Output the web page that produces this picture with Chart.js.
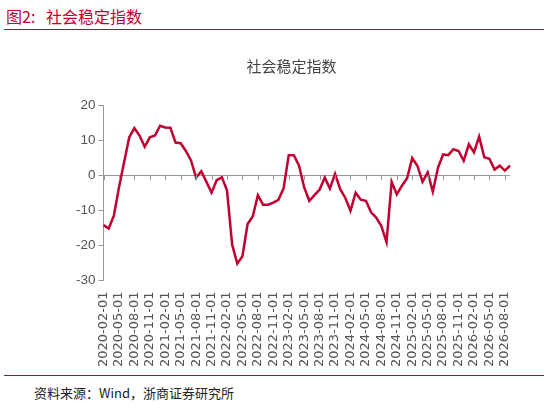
<!DOCTYPE html>
<html><head><meta charset="utf-8">
<script src="https://cdn.jsdelivr.net/npm/chart.js@4"></script>
<style>
body{margin:0;width:548px;height:409px;background:#fff;font-family:"Noto Sans CJK SC",sans-serif;position:relative;overflow:hidden}
#hd{position:absolute;left:6px;top:4px;color:#c00030;font-size:16px}
#hl{position:absolute;left:4px;right:4px;top:29px;border-top:1.5px solid #c00030}
#fl{position:absolute;left:4px;right:4px;top:375px;border-top:1px solid #c00030}
#ft{position:absolute;left:34px;top:383px;font-size:13px;color:#222}
#wrap{position:absolute;left:0;top:45px;width:548px;height:325px}
</style></head><body>
<div id="hd">图2:&nbsp;&nbsp;&nbsp;社会稳定指数</div><div id="hl"></div>
<div id="wrap"><canvas id="c"></canvas></div>
<div id="fl"></div>
<div id="ft">资料来源：Wind，浙商证券研究所</div>
<script>
// 月份 2020-02 至 2026-09
const months = [];
for (let y = 2020; y <= 2026; y++) for (let m = 1; m <= 12; m++) {
  if ((y === 2020 && m < 2) || (y === 2026 && m > 9)) continue;
  months.push(y + '-' + String(m).padStart(2, '0') + '-01');
}
const indexValues = [
  -14.2,-15.2,-11.6,-3.5,3.7,10.8,13.4,11.3,8.1,10.8,11.3,
  14.1,13.6,13.5,9.3,9.1,6.9,4.2,-0.7,1.1,-1.9,-5.0,-1.4,
  -0.6,-4.3,-19.8,-25.2,-23.1,-13.9,-11.8,-5.7,-8.4,-8.4,-7.8,-7.0,
  -3.7,5.7,5.7,2.7,-3.5,-7.3,-5.7,-4.1,-0.7,-3.8,0.4,-4.0,
  -6.5,-10.1,-5.0,-7.0,-7.3,-10.6,-12.1,-14.5,-19.1,-1.9,-5.5,-3.0,
  -0.9,4.9,2.7,-1.9,0.8,-4.7,2.1,5.9,5.7,7.4,6.9,4.1,
  8.8,6.5,11.0,5.1,4.7,1.6,2.7,1.3,2.7
];
const yTicks = [20,15,10,5,0,-5,-10,-15,-20,-25,-30];

const zeroTicks = {
  id: 'zeroTicks',
  afterDatasetsDraw(chart) {
    const x = chart.scales.x, y = chart.scales.y, ctx = chart.ctx;
    const y0 = y.getPixelForValue(0);
    ctx.save();
    ctx.strokeStyle = '#999'; ctx.lineWidth = 1;
    months.forEach((m, i) => {
      if (i % 3) return;
      const px = Math.round(x.getPixelForValue(i)) + 0.5;
      ctx.beginPath(); ctx.moveTo(px, y0); ctx.lineTo(px, y0 + 5); ctx.stroke();
    });
    ctx.restore();
  }
};

new Chart(document.getElementById('c'), {
  type: 'line',
  data: { labels: months, datasets: [{
    data: indexValues, borderColor: '#c00030', borderWidth: 2.5,
    pointRadius: 0, tension: 0
  }]},
  options: {
    responsive: true, maintainAspectRatio: false, animation: false,
    layout: { padding: { left: 73, right: 38, top: 0, bottom: 0 } },
    plugins: {
      legend: { display: false },
      tooltip: { enabled: false },
      title: { display: true, text: '社会稳定指数', color: '#444',
        font: { size: 15, family: '"Noto Sans CJK SC"', weight: 'normal' },
        padding: { top: 12, bottom: 30 } }
    },
    scales: {
      x: {
        offset: false,
        grid: { display: false }, border: { display: false },
        ticks: { autoSkip: false, minRotation: 90, maxRotation: 90, color: '#555',
          font: { size: 13, family: 'DejaVu Sans' },
          callback: (v, i) => i % 3 === 0 ? months[i] : null }
      },
      y: {
        min: -30, max: 20,
        afterBuildTicks: s => { s.ticks = yTicks.map(v => ({ value: v })); },
        border: { display: true, color: '#999' },
        grid: { drawOnChartArea: true, tickLength: 5, tickColor: '#999',
          color: c => c.tick && c.tick.value === 0 ? '#999' : 'rgba(0,0,0,0)' },
        ticks: { color: '#555', padding: 3, font: { size: 13.5, family: 'Liberation Sans' } }
      }
    }
  },
  plugins: [zeroTicks]
});
</script></body></html>
